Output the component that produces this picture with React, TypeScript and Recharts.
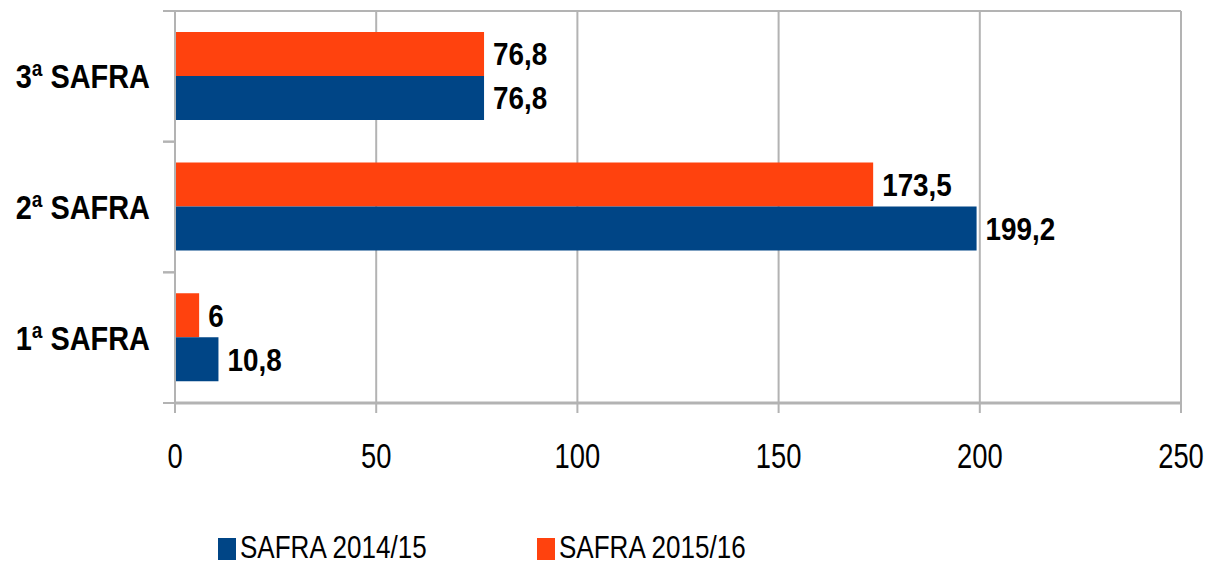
import React from "react";
import { BarChart, Bar, XAxis, YAxis, CartesianGrid, LabelList } from "recharts";

const categories = ["3ª SAFRA", "2ª SAFRA", "1ª SAFRA"];
const safra1415 = [76.8, 199.2, 10.8];
const safra1516 = [76.8, 173.5, 6];
const xTicks = [0, 50, 100, 150, 200, 250];
const seriesNames = ["SAFRA 2014/15", "SAFRA 2015/16"];

const BLUE = "#004586";
const ORANGE = "#ff420e";
const GRID = "#b3b3b3";
const FONT = "'Liberation Sans', Arial, sans-serif";

const W = 1208;
const H = 566;
const M = { top: 11, right: 27, left: 0, bottom: 103 };
const Y_W = 175;
const X_H = 60;
const PLOT_H = H - M.top - M.bottom - X_H;

const data = categories.map((c, i) => ({ cat: c, a: safra1415[i], b: safra1516[i] }));

const fmt = (v: any) => String(v).replace(".", ",");

// no narrow font available -> squeeze Liberation Sans horizontally
function Narrow({ x, y, sx, size, bold, anchor, children }: any) {
  return (
    <text
      transform={`translate(${x},${y}) scale(${sx},1)`}
      textAnchor={anchor || "start"}
      fontFamily={FONT}
      fontWeight={bold ? "bold" : "normal"}
      fontSize={size}
      fill="#000"
    >
      {children}
    </text>
  );
}

function CatTick(props: any) {
  const { x, y, payload } = props;
  const axisX = x + 25;
  const half = PLOT_H / categories.length / 2;
  return (
    <g>
      <line x1={axisX - 12} x2={axisX} y1={y - half} y2={y - half} stroke={GRID} strokeWidth={2} />
      <line x1={axisX - 12} x2={axisX} y1={y + half} y2={y + half} stroke={GRID} strokeWidth={2} />
      <Narrow x={x} y={y + 12} sx={0.85} size={34} bold anchor="end">
        {payload.value}
      </Narrow>
    </g>
  );
}

function NumTick(props: any) {
  const { x, y, payload } = props;
  return (
    <Narrow x={x} y={y + 26} sx={0.76} size={36} anchor="middle">
      {payload.value}
    </Narrow>
  );
}

function ValueLabel(props: any) {
  const { x, y, width, height, value } = props;
  return (
    <Narrow x={x + width + 9} y={y + height / 2 + 11.5} sx={0.87} size={32} bold>
      {fmt(value)}
    </Narrow>
  );
}

export default function App() {
  return (
    <div style={{ position: "absolute", left: 0, top: 0, width: W, height: H, background: "#fff", overflow: "hidden" }}>
      <BarChart
        width={W}
        height={H}
        data={data}
        layout="vertical"
        margin={M}
        barCategoryGap="16%"
        barGap={0}
      >
        <CartesianGrid
          stroke={GRID}
          strokeWidth={2}
          horizontalCoordinatesGenerator={(p: any) => [p.offset.top]}
        />
        <XAxis
          type="number"
          domain={[0, 250]}
          ticks={xTicks}
          height={X_H}
          axisLine={{ stroke: GRID, strokeWidth: 3 }}
          tickLine={{ stroke: GRID, strokeWidth: 2 }}
          tickSize={10}
          tickMargin={29}
          tick={<NumTick />}
        />
        <YAxis
          type="category"
          dataKey="cat"
          width={Y_W}
          axisLine={{ stroke: GRID, strokeWidth: 2 }}
          tickLine={false}
          tickMargin={19}
          tick={<CatTick />}
        />
        <Bar dataKey="b" name={seriesNames[1]} fill={ORANGE} isAnimationActive={false}>
          <LabelList dataKey="b" content={<ValueLabel />} />
        </Bar>
        <Bar dataKey="a" name={seriesNames[0]} fill={BLUE} isAnimationActive={false}>
          <LabelList dataKey="a" content={<ValueLabel />} />
        </Bar>
      </BarChart>
      {/* legend */}
      <svg width={W} height={46} style={{ position: "absolute", left: 0, top: 518 }}>
        {[BLUE, ORANGE].map((c, i) => (
          <g key={i}>
            <rect x={218 + i * 319} y={20} width={18} height={22} fill={c} />
            <Narrow x={240 + i * 319} y={40} sx={0.84} size={31}>
              {seriesNames[i]}
            </Narrow>
          </g>
        ))}
      </svg>
    </div>
  );
}
